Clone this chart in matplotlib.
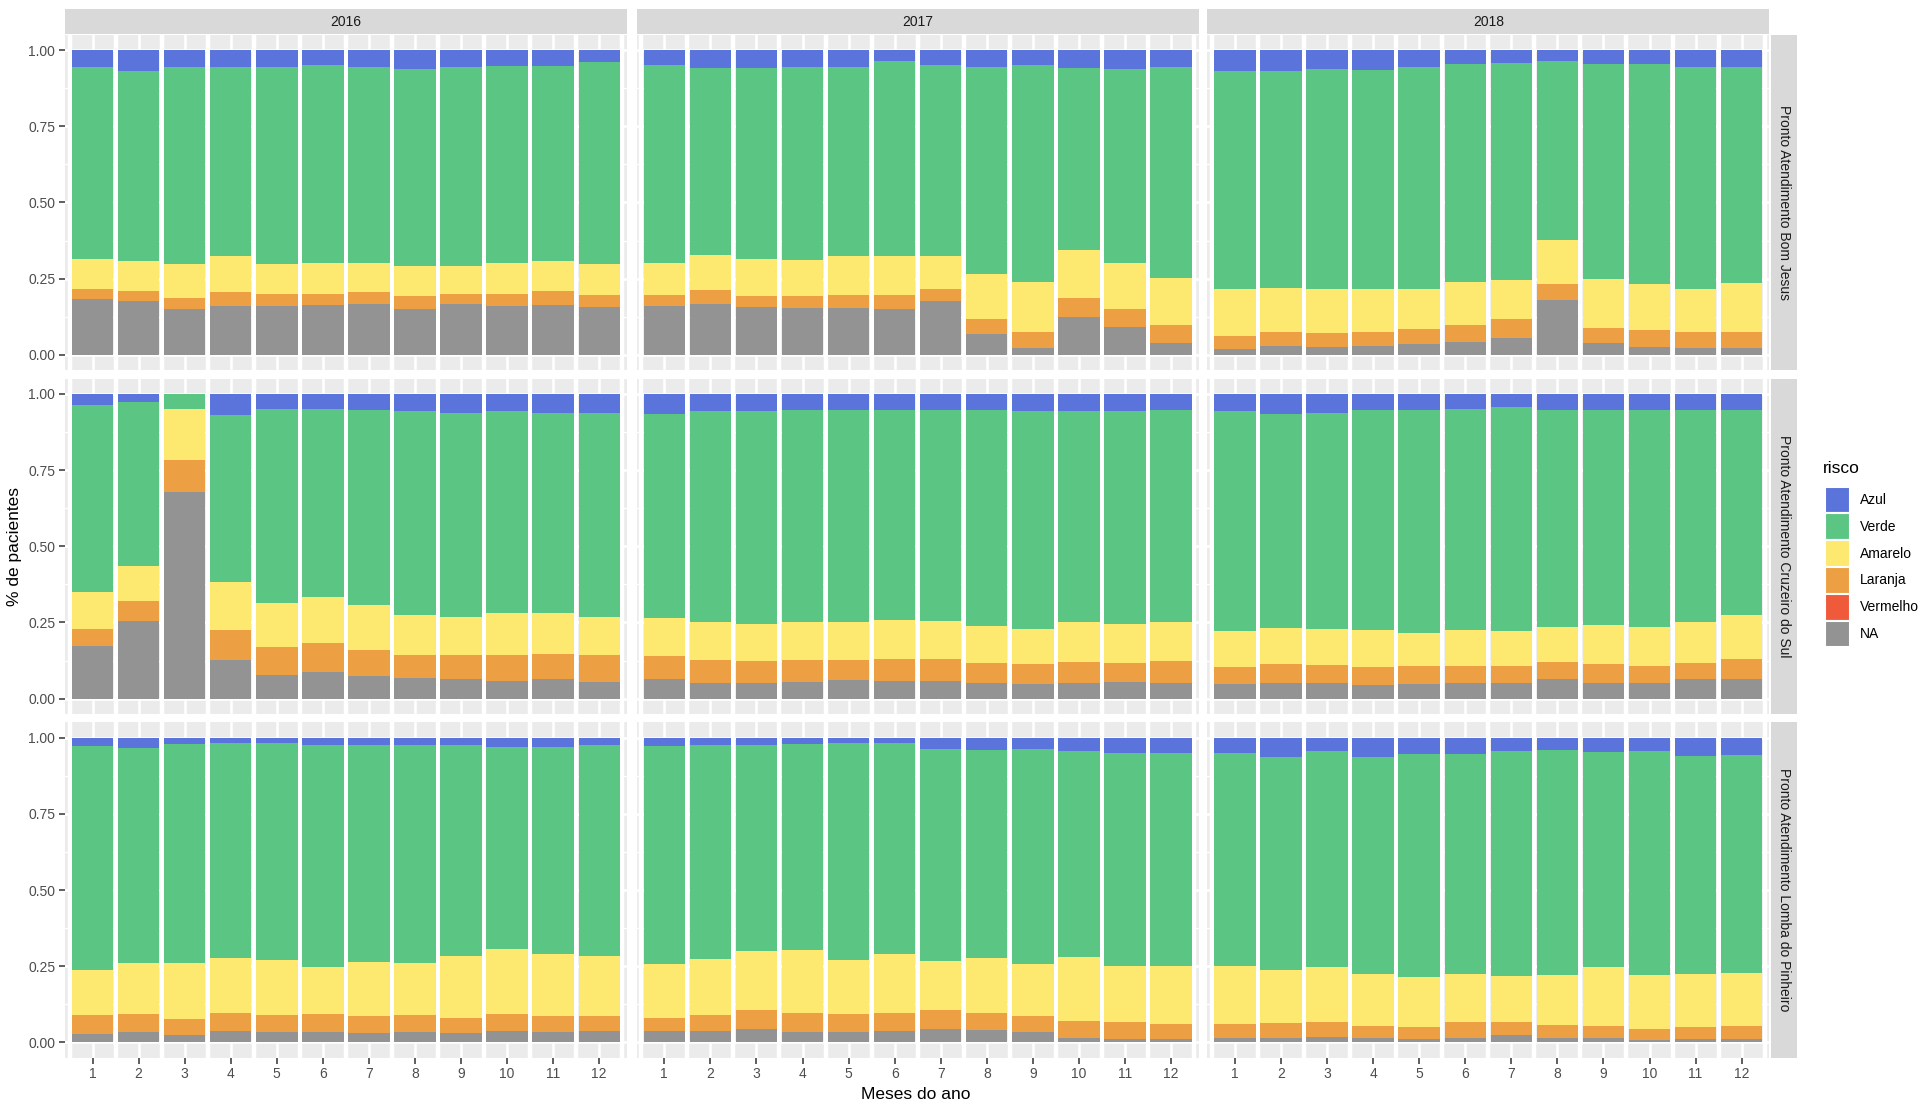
import matplotlib
matplotlib.use("Agg")
import matplotlib.pyplot as plt
import numpy as np
from matplotlib.patches import Rectangle

plt.rcParams['font.family'] = ['Liberation Sans', 'DejaVu Sans']

# ---------------- data ----------------
years = ['2016', '2017', '2018']
units = ['Pronto Atendimento Bom Jesus',
         'Pronto Atendimento Cruzeiro do Sul',
         'Pronto Atendimento Lomba do Pinheiro']
months = list(range(1, 13))
month_labels = [str(m) for m in months]
categories = ['Azul', 'Verde', 'Amarelo', 'Laranja', 'Vermelho', 'NA']
y_ticks = [0.0, 0.25, 0.50, 0.75, 1.00]
y_tick_labels = ['0.00', '0.25', '0.50', '0.75', '1.00']

# shares per month, one row per year (2016, 2017, 2018)
bom_jesus_azul = [
    [.057, .068, .054, .054, .054, .050, .054, .061, .057, .052, .052, .038],
    [.050, .060, .060, .057, .054, .036, .050, .057, .050, .060, .063, .057],
    [.070, .068, .063, .066, .057, .047, .043, .036, .047, .047, .057, .055]]
bom_jesus_verde = [
    [.627, .625, .649, .623, .649, .647, .643, .646, .650, .647, .639, .665],
    [.649, .611, .626, .631, .621, .640, .626, .678, .712, .595, .636, .692],
    [.715, .712, .720, .719, .726, .715, .710, .588, .704, .720, .728, .709]]
bom_jesus_amarelo = [
    [.101, .097, .111, .117, .098, .103, .096, .100, .094, .102, .101, .100],
    [.106, .117, .121, .120, .128, .127, .109, .146, .162, .159, .149, .153],
    [.152, .144, .144, .139, .132, .140, .130, .144, .160, .152, .141, .160]]
bom_jesus_laranja = [
    [.033, .032, .034, .047, .040, .037, .039, .043, .031, .040, .045, .040],
    [.036, .045, .037, .038, .043, .046, .039, .051, .052, .062, .060, .058],
    [.043, .047, .048, .047, .049, .055, .061, .053, .051, .056, .052, .054]]
bom_jesus_vermelho = [
    [0, 0, 0, 0, 0, 0, 0, 0, 0, 0, 0, 0],
    [0, 0, 0, 0, 0, 0, 0, 0, 0, 0, 0, 0],
    [0, 0, 0, 0, 0, 0, 0, 0, 0, 0, 0, 0]]
bom_jesus_na = [
    [.182, .178, .152, .159, .159, .163, .168, .150, .168, .159, .163, .157],
    [.159, .167, .156, .154, .154, .151, .176, .068, .024, .124, .092, .040],
    [.020, .029, .025, .029, .036, .043, .056, .179, .038, .025, .022, .022]]

cruzeiro_azul = [
    [.038, .027, .000, .070, .051, .049, .052, .056, .062, .056, .063, .063],
    [.065, .057, .057, .052, .052, .052, .052, .052, .056, .056, .056, .054],
    [.056, .065, .062, .054, .052, .049, .043, .052, .052, .052, .054, .052]]
cruzeiro_verde = [
    [.612, .539, .049, .548, .635, .617, .641, .668, .669, .662, .655, .668],
    [.672, .691, .699, .696, .696, .691, .693, .709, .716, .694, .700, .696],
    [.722, .704, .709, .721, .733, .727, .735, .714, .706, .712, .694, .672]]
cruzeiro_amarelo = [
    [.121, .114, .168, .158, .146, .153, .146, .132, .127, .140, .136, .127],
    [.124, .126, .119, .124, .124, .127, .125, .122, .114, .131, .128, .125],
    [.119, .119, .120, .122, .107, .116, .114, .115, .130, .128, .136, .145]]
cruzeiro_laranja = [
    [.055, .065, .106, .098, .092, .094, .087, .076, .079, .085, .083, .087],
    [.076, .074, .073, .073, .068, .073, .073, .065, .067, .067, .061, .073],
    [.056, .060, .057, .059, .059, .056, .056, .056, .060, .056, .053, .068]]
cruzeiro_vermelho = [
    [0, 0, 0, 0, 0, 0, 0, 0, 0, 0, 0, 0],
    [0, 0, 0, 0, 0, 0, 0, 0, 0, 0, 0, 0],
    [0, 0, 0, 0, 0, 0, 0, 0, 0, 0, 0, 0]]
cruzeiro_na = [
    [.174, .255, .677, .126, .076, .087, .074, .068, .063, .057, .063, .055],
    [.063, .052, .052, .055, .060, .057, .057, .052, .047, .052, .055, .052],
    [.047, .052, .052, .044, .049, .052, .052, .063, .052, .052, .063, .063]]

lomba_azul = [
    [.027, .035, .022, .018, .018, .025, .025, .025, .025, .029, .029, .025],
    [.027, .023, .025, .022, .018, .018, .038, .040, .038, .043, .051, .051],
    [.051, .064, .045, .064, .054, .054, .045, .042, .048, .043, .060, .056]]
lomba_verde = [
    [.736, .706, .716, .706, .710, .727, .711, .713, .693, .666, .682, .693],
    [.717, .702, .675, .674, .710, .691, .695, .682, .706, .677, .699, .699],
    [.698, .697, .707, .710, .731, .722, .737, .737, .704, .736, .716, .716]]
lomba_amarelo = [
    [.148, .167, .184, .178, .183, .156, .176, .171, .201, .213, .204, .194],
    [.175, .186, .193, .206, .178, .195, .160, .180, .168, .211, .184, .190],
    [.189, .175, .182, .171, .164, .158, .150, .165, .193, .177, .173, .173]]
lomba_laranja = [
    [.060, .058, .054, .059, .055, .058, .057, .057, .050, .055, .051, .052],
    [.045, .053, .064, .064, .060, .059, .062, .058, .054, .053, .056, .050],
    [.049, .051, .048, .042, .041, .050, .045, .043, .039, .036, .041, .045]]
lomba_vermelho = [
    [0, 0, 0, 0, 0, 0, 0, 0, 0, 0, 0, 0],
    [0, 0, 0, 0, 0, 0, 0, 0, 0, 0, 0, 0],
    [0, 0, 0, 0, 0, 0, 0, 0, 0, 0, 0, 0]]
lomba_na = [
    [.029, .034, .024, .039, .034, .034, .031, .034, .031, .037, .034, .036],
    [.036, .036, .043, .034, .034, .037, .045, .040, .034, .016, .010, .010],
    [.013, .013, .018, .013, .010, .016, .023, .013, .016, .008, .010, .010]]

unit_data = [
    {'Azul': bom_jesus_azul, 'Verde': bom_jesus_verde, 'Amarelo': bom_jesus_amarelo,
     'Laranja': bom_jesus_laranja, 'Vermelho': bom_jesus_vermelho, 'NA': bom_jesus_na},
    {'Azul': cruzeiro_azul, 'Verde': cruzeiro_verde, 'Amarelo': cruzeiro_amarelo,
     'Laranja': cruzeiro_laranja, 'Vermelho': cruzeiro_vermelho, 'NA': cruzeiro_na},
    {'Azul': lomba_azul, 'Verde': lomba_verde, 'Amarelo': lomba_amarelo,
     'Laranja': lomba_laranja, 'Vermelho': lomba_vermelho, 'NA': lomba_na},
]

# ---------------- style ----------------
colors = {'Azul': '#5B74DB', 'Verde': '#5BC584', 'Amarelo': '#FDE870',
          'Laranja': '#EDA043', 'Vermelho': '#EF5A3A', 'NA': '#939393'}
stack_order = ['NA', 'Vermelho', 'Laranja', 'Amarelo', 'Verde', 'Azul']

fig = plt.figure(figsize=(19.2, 11.04), dpi=100)
fig.patch.set_facecolor('white')

col_left = [0.0338, 0.3316, 0.6288]
pw = 0.2927
row_bottom = [0.6648, 0.3534, 0.0420]
ph = 0.3036

for r, unit in enumerate(units):
    for c, year in enumerate(years):
        ax = fig.add_axes([col_left[c], row_bottom[r], pw, ph])
        ax.set_facecolor('#EBEBEB')
        d = unit_data[r]
        totals = np.zeros(12)
        for cat in categories:
            totals += np.array(d[cat][c], dtype=float)
        bottom = np.zeros(12)
        for cat in stack_order:
            vals = np.array(d[cat][c], dtype=float) / totals
            ax.bar(months, vals, width=0.9, bottom=bottom, color=colors[cat],
                   linewidth=0, zorder=3)
            bottom += vals
        ax.set_xlim(0.4, 12.6)
        ax.set_ylim(-0.05, 1.05)
        ax.set_xticks(months)
        ax.set_xticks([m + 0.5 for m in range(0, 13)], minor=True)
        ax.set_yticks(y_ticks)
        ax.set_yticks([0.125, 0.375, 0.625, 0.875], minor=True)
        ax.set_axisbelow(True)
        ax.xaxis.grid(True, which='major', color='white', lw=1.8, zorder=0)
        ax.xaxis.grid(True, which='minor', color='white', lw=3.2, zorder=0)
        ax.yaxis.grid(True, which='major', color='white', lw=1.8, zorder=0)
        ax.yaxis.grid(True, which='minor', color='white', lw=0.9, zorder=0)
        for s in ax.spines.values():
            s.set_visible(False)
        ax.tick_params(which='minor', length=0)
        ax.tick_params(which='major', colors='#333333', labelcolor='#4D4D4D',
                       labelsize=10, length=4, width=1.1, pad=3)
        if c == 0:
            ax.set_yticklabels(y_tick_labels)
        else:
            ax.set_yticklabels([])
            ax.tick_params(axis='y', length=0)
        if r == 2:
            ax.set_xticklabels(month_labels)
        else:
            ax.set_xticklabels([])
            ax.tick_params(axis='x', length=0)

        if r == 0:
            sax = fig.add_axes([col_left[c], 0.9690, pw, 0.0230])
            sax.set_facecolor('#D9D9D9')
            sax.set_xticks([]); sax.set_yticks([])
            for s in sax.spines.values():
                s.set_visible(False)
            sax.text(0.5, 0.5, year, ha='center', va='center', fontsize=10,
                     color='#1A1A1A', transform=sax.transAxes)
        if c == 2:
            rax = fig.add_axes([col_left[2] + pw + 0.001, row_bottom[r], 0.0135, ph])
            rax.set_facecolor('#D9D9D9')
            rax.set_xticks([]); rax.set_yticks([])
            for s in rax.spines.values():
                s.set_visible(False)
            rax.text(0.5, 0.5, unit, ha='center', va='center', fontsize=10,
                     color='#1A1A1A', rotation=-90, transform=rax.transAxes)

# axis titles
fig.text(0.0077, 0.505, '% de pacientes', rotation=90, ha='center', va='center',
         fontsize=12.5, color='black')
fig.text(0.477, 0.002, 'Meses do ano', ha='center', va='bottom', fontsize=12.5,
         color='black')

# legend
fig.text(0.9495, 0.5754, 'risco', ha='left', va='center', fontsize=12.5, color='black')
key_w = 0.0130
key_h = 0.0243
key_top = 1 - 397.5 / 902
for i, cat in enumerate(categories):
    yb = key_top - (i + 1) * key_h
    fig.add_artist(Rectangle((0.9503, yb), key_w, key_h, transform=fig.transFigure,
                             facecolor=colors[cat], edgecolor='white', lw=1.5))
    fig.text(0.9688, yb + key_h / 2, cat, ha='left', va='center', fontsize=10,
             color='black')

fig.savefig('out.png', dpi=100)
